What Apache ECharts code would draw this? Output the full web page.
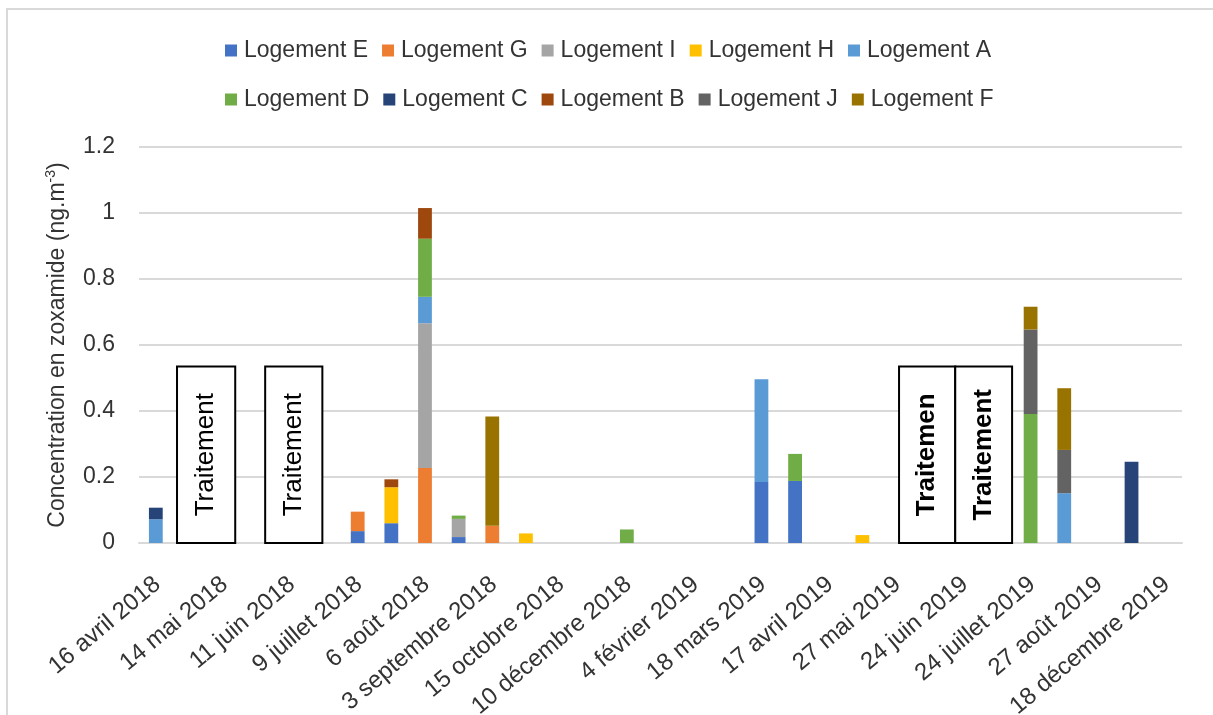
<!DOCTYPE html>
<html>
<head>
<meta charset="utf-8">
<script src="https://cdn.jsdelivr.net/npm/echarts@6/dist/echarts.min.js"></script>
<style>
html,body{margin:0;padding:0;background:#fff;}
#chart{width:1213px;height:715px;}
</style>
</head>
<body>
<div id="chart"></div>
<script>
// 31 sampling slots; only every other one carries a visible date label
const categories = [
  '16 avril 2018', '', '14 mai 2018', '', '11 juin 2018', '', '9 juillet 2018', '',
  '6 août 2018', '', '3 septembre 2018', '', '15 octobre 2018', '', '10 décembre 2018', '',
  '4 février 2019', '', '18 mars 2019', '', '17 avril 2019', '', '27 mai 2019', '',
  '24 juin 2019', '', '24 juillet 2019', '', '27 août 2019', '', '18 décembre 2019'
];

const seriesNames = ['Logement E','Logement G','Logement I','Logement H','Logement A',
                     'Logement D','Logement C','Logement B','Logement J','Logement F'];

// values per slot (index 0..30), null = no measurement / zero
const logementE = [null,null,null,null,null,null,0.036,0.060,null,0.018,null,null,null,null,null,null,null,null,0.185,0.188,null,null,null,null,null,null,null,null,null,null,null];
const logementG = [null,null,null,null,null,null,0.059,null,0.227,null,0.052,null,null,null,null,null,null,null,null,null,null,null,null,null,null,null,null,null,null,null,null];
const logementI = [null,null,null,null,null,null,null,null,0.439,0.055,null,null,null,null,null,null,null,null,null,null,null,null,null,null,null,null,null,null,null,null,null];
const logementH = [null,null,null,null,null,null,null,0.109,null,null,null,0.029,null,null,null,null,null,null,null,null,null,0.024,null,null,null,null,null,null,null,null,null];
const logementA = [0.072,null,null,null,null,null,null,null,0.080,null,null,null,null,null,null,null,null,null,0.311,null,null,null,null,null,null,null,null,0.151,null,null,null];
const logementD = [null,null,null,null,null,null,null,null,0.176,0.010,null,null,null,null,0.041,null,null,null,null,0.082,null,null,null,null,null,null,0.391,null,null,null,null];
const logementC = [0.035,null,null,null,null,null,null,null,null,null,null,null,null,null,null,null,null,null,null,null,null,null,null,null,null,null,null,null,null,0.246,null];
const logementB = [null,null,null,null,null,null,null,0.024,0.093,null,null,null,null,null,null,null,null,null,null,null,null,null,null,null,null,null,null,null,null,null,null];
const logementJ = [null,null,null,null,null,null,null,null,null,null,null,null,null,null,null,null,null,null,null,null,null,null,null,null,null,null,0.256,0.131,null,null,null];
const logementF = [null,null,null,null,null,null,null,null,null,null,0.331,null,null,null,null,null,null,null,null,null,null,null,null,null,null,null,0.069,0.187,null,null,null];

const seriesValues = [logementE, logementG, logementI, logementH, logementA,
                      logementD, logementC, logementB, logementJ, logementF];

const yTicks = [0, 0.2, 0.4, 0.6, 0.8, 1, 1.2];

// "Traitement" text boxes (in slot units along the axis and concentration units)
const annotTexts = ['Traitement', 'Traitement', 'Traitemen', 'Traitement'];
const annotStart = [0.63, 3.25, 22.09, 23.76];
const annotEnd   = [2.36, 4.95, 23.76, 25.45];
const annotTop   = [0.535, 0.535, 0.535, 0.535];
const annotBold  = [false, false, true, true];

const colors = ['#4472C4','#ED7D31','#A5A5A5','#FFC000','#5B9BD5',
                '#70AD47','#264478','#9E480E','#636363','#997300'];

const FONT = 'Liberation Sans, Arial, sans-serif';
const TXT = '#333333';

const chart = echarts.init(document.getElementById('chart'), null, {renderer: 'canvas'});

const barSeries = seriesNames.map((name, i) => ({
  name: name,
  type: 'bar',
  stack: 'total',
  barWidth: '41%',
  itemStyle: {color: colors[i]},
  data: seriesValues[i],
  xAxisIndex: 0,
  yAxisIndex: 0
}));

const annotData = annotTexts.map((t, i) => [annotStart[i], annotEnd[i], annotTop[i]]);

const annotSeries = {
  type: 'custom',
  xAxisIndex: 1,
  yAxisIndex: 0,
  z: 5,
  silent: true,
  data: annotData,
  renderItem: function (params, api) {
    const p0 = api.coord([api.value(0), 0]);
    const p1 = api.coord([api.value(1), api.value(2)]);
    const i = params.dataIndex;
    return {
      type: 'group',
      children: [
        {
          type: 'rect',
          shape: {x: p0[0], y: p1[1], width: p1[0] - p0[0], height: p0[1] - p1[1]},
          style: {fill: '#ffffff', stroke: '#000000', lineWidth: 2}
        },
        {
          type: 'text',
          x: (p0[0] + p1[0]) / 2,
          y: (p0[1] + p1[1]) / 2,
          rotation: Math.PI / 2,
          style: {
            text: annotTexts[i],
            fontSize: 26,
            fontWeight: annotBold[i] ? 'bold' : 'normal',
            fontFamily: FONT,
            fill: '#000000',
            align: 'center',
            verticalAlign: 'middle'
          }
        }
      ]
    };
  }
};

const legendCommon = {
  left: 220,
  itemWidth: 12,
  itemHeight: 12,
  itemGap: 14,
  icon: 'rect',
  selectedMode: false,
  textStyle: {fontSize: 23, color: TXT, fontFamily: FONT, padding: [0, 0, 0, 2]}
};

const option = {
  animation: false,
  backgroundColor: '#ffffff',
  color: colors,
  textStyle: {fontFamily: FONT},
  graphic: [{
    type: 'rect',
    shape: {x: 7, y: 9, width: 1260, height: 760},
    style: {fill: 'none', stroke: '#d9d9d9', lineWidth: 2},
    silent: true,
    z: -10
  }],
  legend: [
    Object.assign({}, legendCommon, {top: 34, data: seriesNames.slice(0, 5)}),
    Object.assign({}, legendCommon, {top: 83, data: seriesNames.slice(5, 10)})
  ],
  grid: {left: 139, right: 31, top: 147, bottom: 172, containLabel: false, outerBoundsMode: 'none'},
  xAxis: [
    {
      type: 'category',
      data: categories,
      boundaryGap: true,
      axisLine: {show: true, lineStyle: {color: '#d9d9d9', width: 2}},
      axisTick: {show: false},
      splitLine: {show: false},
      axisLabel: {
        interval: 1,
        rotate: 40,
        margin: 24,
        align: 'right',
        verticalAlign: 'top',
        padding: [0, 8, 0, 0],
        fontSize: 24,
        color: TXT,
        fontFamily: FONT
      }
    },
    {
      type: 'value',
      min: -0.5,
      max: 30.5,
      show: false,
      splitLine: {show: false}
    }
  ],
  yAxis: {
    type: 'value',
    min: 0,
    max: 1.2,
    interval: 0.2,
    axisLine: {show: false},
    axisTick: {show: false},
    splitLine: {show: true, lineStyle: {color: '#d9d9d9', width: 2}},
    axisLabel: {
      fontSize: 23,
      color: TXT,
      margin: 24,
      fontFamily: FONT,
      formatter: function (v) {
        const t = yTicks.find(x => Math.abs(x - v) < 1e-9);
        return String(t !== undefined ? t : v);
      }
    },
    name: '{a|Concentration en zoxamide (ng.m}{s|-3}{a|)}',
    nameLocation: 'middle',
    nameRotate: 90,
    nameGap: 67,
    nameTextStyle: {
      color: TXT,
      fontFamily: FONT,
      rich: {
        a: {fontSize: 23, color: TXT, fontFamily: FONT, lineHeight: 28},
        s: {fontSize: 14, color: TXT, fontFamily: FONT, verticalAlign: 'top', lineHeight: 28, padding: [0, 0, 10, 0]}
      }
    }
  },
  series: barSeries.concat([annotSeries])
};

chart.setOption(option);
</script>
</body>
</html>
